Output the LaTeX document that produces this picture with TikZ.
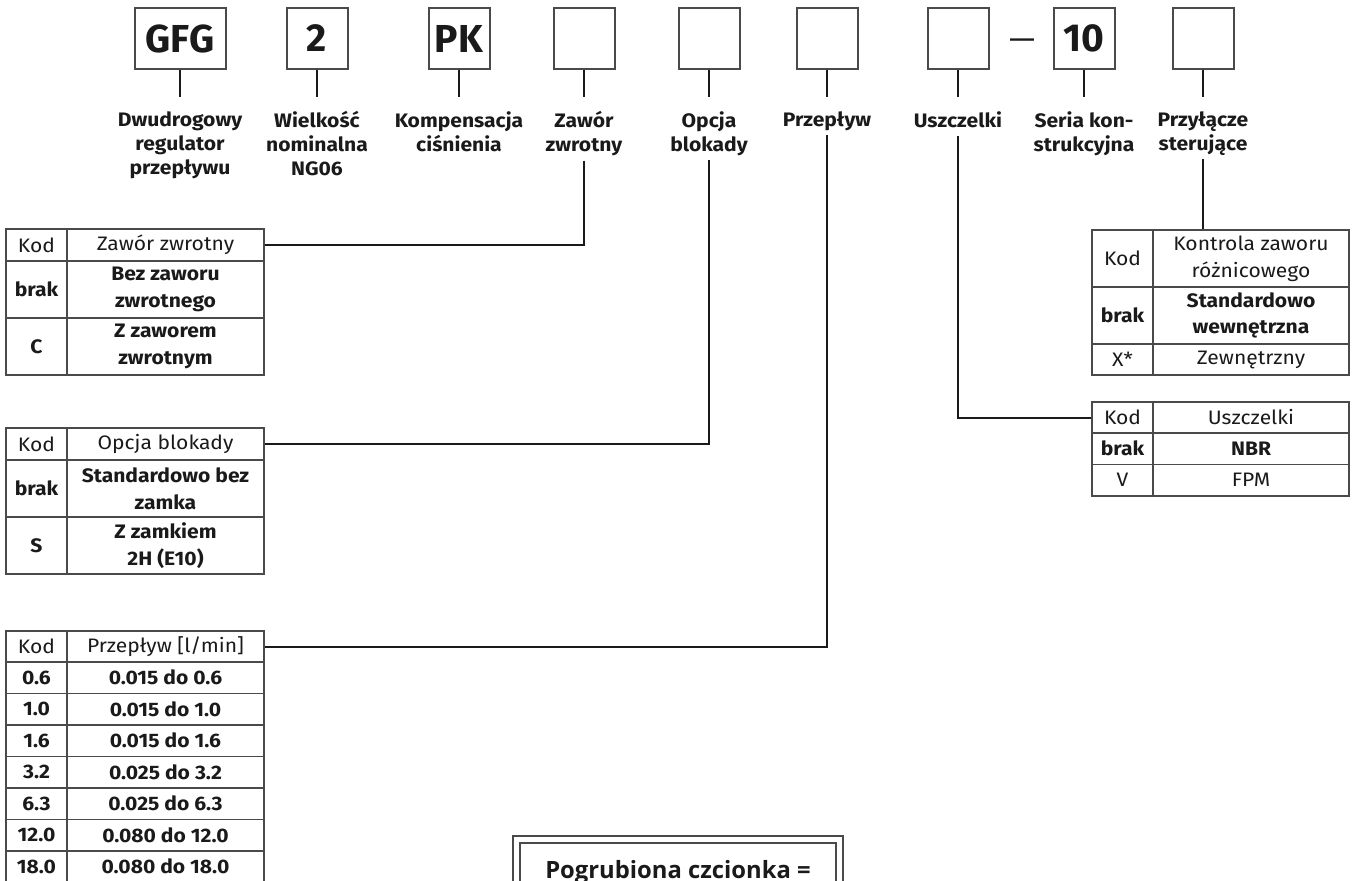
\documentclass[tikz,border=0pt]{standalone}
\usepackage{fontspec}
\setmainfont{Fira Sans}
\newfontfamily\tabfont[FakeStretch=1.08]{Fira Sans}
\newfontfamily\dashfont{Liberation Sans}
\newfontfamily\notefont{Open Sans}
\newcommand\fst{\rule{0pt}{15pt}}
\newcommand\lst{\rule[-9pt]{0pt}{9pt}}
\definecolor{lineg}{HTML}{4A4A4A}
\definecolor{ink}{HTML}{1A1A1A}
\begin{document}
\begin{tikzpicture}[x=1pt,y=-1pt,
  codebox/.style={draw=lineg,line width=2pt,minimum width=61pt,minimum height=61pt,inner sep=0pt,
    font=\bfseries\fontsize{39}{39}\selectfont,text=ink},
  lbl/.style={anchor=north,inner sep=0pt,align=center,
    font=\tabfont\bfseries\fontsize{19.5}{24}\selectfont,text=ink},
  tick/.style={draw=ink,line width=2pt},
  conn/.style={draw=ink,line width=2pt},
  cell/.style={draw=lineg,line width=1.6pt,inner sep=0pt,align=center,
    font=\tabfont\fontsize{19.5}{26.7}\selectfont,text=ink},
  bcell/.style={cell,font=\tabfont\fontsize{19.5}{26.7}\selectfont\bfseries},
  kc/.style={minimum width=61pt},
  vc1/.style={minimum width=197pt},
  vc2/.style={minimum width=196pt},
]
\useasboundingbox (0,0) rectangle (1356,880);
\clip (0,0) rectangle (1356,880);

% code boxes
\node[codebox,minimum width=91pt] (b1) at (180,38.5) {GFG};
\node[codebox] (b2) at (317,38.5) {2};
\node[codebox] (b3) at (459,38.5) {PK};
\node[codebox] (b4) at (584,38.5) {};
\node[codebox] (b5) at (709,38.5) {};
\node[codebox] (b6) at (827,38.5) {};
\node[codebox] (b7) at (958,38.5) {};
\node[inner sep=0pt,anchor=base,font=\dashfont\bfseries\fontsize{24}{24}\selectfont,text=ink] (dash) at (1022,46.5) {—};
\node[codebox] (b8) at (1084,38.5) {10};
\node[codebox] (b9) at (1203,38.5) {};

% labels
\node[lbl] (l1) at (180,111) {\fst Dwudrogowy\\regulator\\przepływu\lst};
\node[lbl] (l2) at (317,111) {\fst Wielkość\\nominalna\\NG06\lst};
\node[lbl] (l3) at (459,111) {\fst Kompensacja\\ciśnienia\lst};
\node[lbl] (l4) at (584,111) {\fst Zawór\\zwrotny\lst};
\node[lbl] (l5) at (709,111) {\fst Opcja\\blokady\lst};
\node[lbl] (l6) at (827,111) {\fst Przepływ\lst};
\node[lbl] (l7) at (958,111) {\fst Uszczelki\lst};
\node[lbl] (l8) at (1084,111) {\fst Seria kon-\\strukcyjna\lst};
\node[lbl] (l9) at (1203,111) {\fst Przyłącze\\sterujące\lst};

\foreach \i in {1,...,9}{
  \draw[tick] (b\i.south) -- ([yshift=14pt]l\i.north);
}

% table 1: Zawor zwrotny
\node[cell,kc,minimum height=32pt] (a0k) at (36.5,245) {Kod};
\node[cell,vc1,minimum height=32pt] (a0v) at (165.5,245) {Zawór zwrotny};
\node[bcell,kc,minimum height=57pt] (a1k) at (36.5,289.5) {brak};
\node[bcell,vc1,minimum height=57pt] (a1v) at (165.5,289.5) {Bez zaworu\\zwrotnego};
\node[bcell,kc,minimum height=57pt] (a2k) at (36.5,346.5) {C};
\node[bcell,vc1,minimum height=57pt] (a2v) at (165.5,346.5) {Z zaworem\\zwrotnym};

% table 2: Opcja blokady
\node[cell,kc,minimum height=32pt] (o0k) at (36.5,444) {Kod};
\node[cell,vc1,minimum height=32pt] (o0v) at (165.5,444) {Opcja blokady};
\node[bcell,kc,minimum height=57pt] (o1k) at (36.5,488.5) {brak};
\node[bcell,vc1,minimum height=57pt] (o1v) at (165.5,488.5) {Standardowo bez\\zamka};
\node[bcell,kc,minimum height=57pt] (o2k) at (36.5,545.5) {S};
\node[bcell,vc1,minimum height=57pt] (o2v) at (165.5,545.5) {Z zamkiem\\2H (E10)};

% table 3: Przeplyw
\node[cell,kc,minimum height=31pt] (p0k) at (36.5,646.5) {Kod};
\node[cell,vc1,minimum height=31pt] (p0v) at (165.5,646.5) {Przepływ [l/min]};
\foreach \c/\v [count=\i] in {0.6/0.015 do 0.6,1.0/0.015 do 1.0,1.6/0.015 do 1.6,3.2/0.025 do 3.2,6.3/0.025 do 6.3,12.0/0.080 do 12.0,18.0/0.080 do 18.0}{
  \node[bcell,kc,minimum height=31.5pt] (p\i k) at (36.5,646.25+31.5*\i) {\c};
  \node[bcell,vc1,minimum height=31.5pt] (p\i v) at (165.5,646.25+31.5*\i) {\v};
}

% table 4: Kontrola zaworu roznicowego
\node[cell,kc,minimum height=57pt] (c0k) at (1122.5,258.5) {Kod};
\node[cell,vc2,minimum height=57pt] (c0v) at (1251,258.5) {Kontrola zaworu\\różnicowego};
\node[bcell,kc,minimum height=57pt] (c1k) at (1122.5,315.5) {brak};
\node[bcell,vc2,minimum height=57pt] (c1v) at (1251,315.5) {Standardowo\\wewnętrzna};
\node[cell,kc,minimum height=31pt] (c2k) at (1122.5,359.5) {X*};
\node[cell,vc2,minimum height=31pt] (c2v) at (1251,359.5) {Zewnętrzny};

% table 5: Uszczelki
\node[cell,kc,minimum height=31pt] (s0k) at (1122.5,417.5) {Kod};
\node[cell,vc2,minimum height=31pt] (s0v) at (1251,417.5) {Uszczelki};
\node[bcell,kc,minimum height=31.5pt] (s1k) at (1122.5,448.75) {brak};
\node[bcell,vc2,minimum height=31.5pt] (s1v) at (1251,448.75) {NBR};
\node[cell,kc,minimum height=31.5pt] (s2k) at (1122.5,480.25) {V};
\node[cell,vc2,minimum height=31.5pt] (s2v) at (1251,480.25) {FPM};

% connectors
\draw[conn] (l4.south) |- (a0v.east);
\draw[conn] (l5.south) |- (o0v.east);
\draw[conn] (l6.south) |- (p0v.east);
\draw[conn] (l7.south) |- (s0k.west);
\draw[conn] (l9.south) -- (l9.south |- c0v.north);

% note box
\node[draw=lineg,line width=2pt,double,double distance=5pt,minimum width=323pt,inner sep=0pt,
  anchor=north,font=\notefont\bfseries\fontsize{23.8}{28}\selectfont,text=ink] (note) at (678,838)
  {\rule[-80pt]{0pt}{119pt}Pogrubiona czcionka =};
\end{tikzpicture}
\end{document}
